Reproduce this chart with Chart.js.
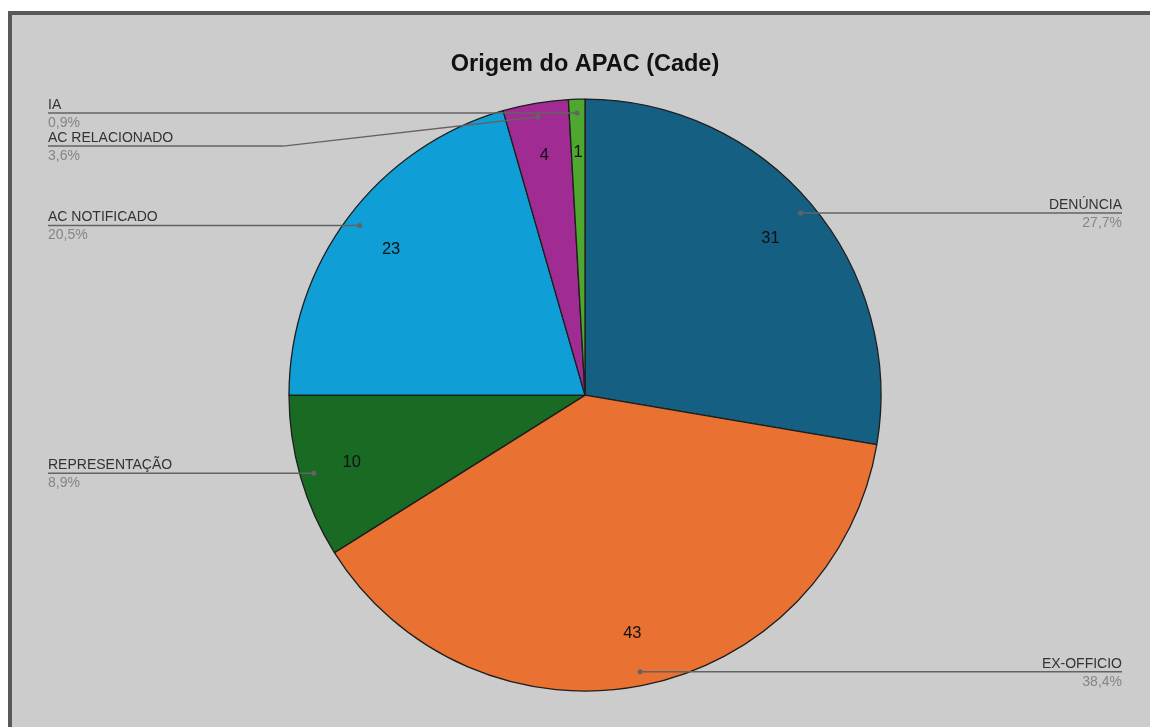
<!DOCTYPE html>
<html>
<head>
<meta charset="utf-8">
<script src="https://cdn.jsdelivr.net/npm/chart.js@4"></script>
<style>
    body { margin: 0; background: #fff; overflow: hidden; }
    #frame {
        position: absolute; left: 8px; top: 11px;
        width: 1142px; height: 716px;
        border-left: 4px solid #595959; border-top: 4px solid #595959;
        background: #cccccc;
    }
    #frame canvas { position: absolute; left: 0; top: 0; }
</style>
</head>
<body>
<div id="frame"><canvas id="apacChart" width="1138" height="712"></canvas></div>
<script>
var labels = ['DENÚNCIA', 'EX-OFFICIO', 'REPRESENTAÇÃO', 'AC NOTIFICADO', 'AC RELACIONADO', 'IA'];
var values = [31, 43, 10, 23, 4, 1];
var colors = ['#156082', '#e97132', '#196b24', '#0f9ed5', '#a02b93', '#4ea72e'];

var FONT = '"Liberation Sans", Arial, sans-serif';

// leader lines + outside labels + inside values
var calloutPlugin = {
    id: 'callouts',
    afterDatasetsDraw: function (chart) {
        var ctx = chart.ctx;
        var arcs = chart.getDatasetMeta(0).data;
        var data = chart.data.datasets[0].data;
        var total = data.reduce((a, b) => a + b, 0);
        var area = chart.chartArea;
        var left = [], right = [];

        arcs.forEach(function (arc, i) {
            var p = arc.getProps(['x', 'y', 'startAngle', 'endAngle', 'outerRadius'], true);
            var mid = (p.startAngle + p.endAngle) / 2;
            var item = {
                i: i, cx: p.x, cy: p.y, r: p.outerRadius,
                dx: p.x + Math.cos(mid) * p.outerRadius * 0.953,
                dy: p.y + Math.sin(mid) * p.outerRadius * 0.953,
                vx: p.x + Math.cos(mid) * p.outerRadius * 0.82,
                vy: p.y + Math.sin(mid) * p.outerRadius * 0.82
            };
            (Math.cos(mid) >= 0 ? right : left).push(item);
        });

        [left, right].forEach(function (side) {
            side.sort((a, b) => a.dy - b.dy);
            var prev = -Infinity;
            side.forEach(function (it) {
                it.ly = Math.max(it.dy, prev + 33);
                prev = it.ly;
            });
        });

        ctx.save();
        ctx.strokeStyle = '#636363';
        ctx.fillStyle = '#636363';
        ctx.lineWidth = 1.5;

        function drawSide(side, isLeft) {
            side.forEach(function (it) {
                var endX = isLeft ? area.left + 28 : area.right - 28;
                var elbowX = isLeft ? it.cx - it.r - 6 : it.cx + it.r + 6;
                ctx.beginPath();
                ctx.moveTo(it.dx, it.dy);
                if (Math.abs(it.ly - it.dy) > 0.5) ctx.lineTo(elbowX, it.ly);
                ctx.lineTo(endX, it.ly);
                ctx.stroke();
                ctx.beginPath();
                ctx.arc(it.dx, it.dy, 2.5, 0, Math.PI * 2);
                ctx.fill();

                ctx.save();
                ctx.textAlign = isLeft ? 'left' : 'right';
                ctx.textBaseline = 'alphabetic';
                ctx.font = '14px ' + FONT;
                ctx.fillStyle = '#333';
                ctx.fillText(labels[it.i], endX, it.ly - 4);
                ctx.fillStyle = '#858585';
                var pct = (data[it.i] / total * 100).toFixed(1).replace('.', ',') + '%';
                ctx.fillText(pct, endX, it.ly + 14);
                ctx.restore();
            });
        }
        drawSide(left, true);
        drawSide(right, false);

        ctx.fillStyle = '#111';
        ctx.font = '16.5px ' + FONT;
        ctx.textAlign = 'center';
        ctx.textBaseline = 'middle';
        left.concat(right).forEach(function (it) {
            ctx.fillText(String(data[it.i]), it.vx, it.vy);
        });
        ctx.restore();
    }
};

new Chart(document.getElementById('apacChart'), {
    type: 'pie',
    data: {
        labels: labels,
        datasets: [{
            data: values,
            backgroundColor: colors,
            borderColor: '#1e1e1e',
            borderWidth: 1.3
        }]
    },
    options: {
        responsive: false,
        animation: false,
        radius: 296,
        layout: { padding: { left: 8, right: 0, top: 0, bottom: 24 } },
        plugins: {
            legend: { display: false },
            tooltip: { enabled: false },
            title: {
                display: true,
                text: 'Origem do APAC (Cade)',
                color: '#111',
                font: { family: FONT, size: 23.5, weight: 'bold' },
                padding: { top: 35, bottom: 9 }
            }
        }
    },
    plugins: [calloutPlugin]
});
</script>
</body>
</html>
